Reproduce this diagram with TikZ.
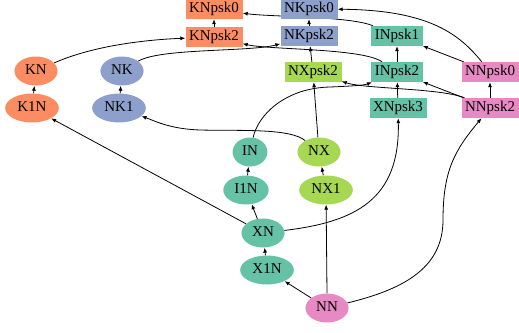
\documentclass[tikz,border=0pt]{standalone}
\usepackage{fontspec}
\setmainfont{Liberation Serif}
\usetikzlibrary{shapes.geometric,arrows.meta,backgrounds}
\definecolor{setOrange}{HTML}{FC8D62}
\definecolor{setBlue}{HTML}{8DA0CB}
\definecolor{setGreen}{HTML}{66C2A5}
\definecolor{setPink}{HTML}{E78AC3}
\definecolor{setLime}{HTML}{A6D854}

\begin{document}
\begin{tikzpicture}[x=1pt,y=-1pt,
    font=\fontsize{15}{18}\selectfont,
    box/.style={rectangle,inner xsep=3.5pt,inner ysep=0pt,minimum height=20pt,text height=10.5pt,text depth=3pt},
    oval/.style={ellipse,inner xsep=4.4pt,inner ysep=0pt,minimum height=29pt,text height=10.5pt,text depth=3pt},
    conn/.style={line width=0.8pt,-{Latex[length=5pt,width=4pt]}}]
    \useasboundingbox (0,0) rectangle (519,332);

    % boxes
    \node[box,fill=setOrange] (KNpsk0) at (214,9) {KNpsk0};
    \node[box,fill=setOrange] (KNpsk2) at (214,37) {KNpsk2};
    \node[box,fill=setBlue] (NKpsk0) at (309,9) {NKpsk0};
    \node[box,fill=setBlue] (NKpsk2) at (309,36) {NKpsk2};
    \node[box,fill=setGreen] (INpsk1) at (397,36) {INpsk1};
    \node[box,fill=setLime] (NXpsk2) at (313,72) {NXpsk2};
    \node[box,fill=setGreen] (INpsk2) at (397,72) {INpsk2};
    \node[box,fill=setPink] (NNpsk0) at (490,72) {NNpsk0};
    \node[box,fill=setGreen] (XNpsk3) at (398,108) {XNpsk3};
    \node[box,fill=setPink] (NNpsk2) at (490,108) {NNpsk2};

    % ellipses
    \node[oval,fill=setOrange] (KN) at (36,71) {KN};
    \node[oval,fill=setOrange] (K1N) at (32,108) {K1N};
    \node[oval,fill=setBlue] (NK) at (122,71) {NK};
    \node[oval,fill=setBlue] (NK1) at (119,108) {NK1};
    \node[oval,fill=setGreen] (IN) at (250,152) {IN};
    \node[oval,fill=setGreen] (I1N) at (246,190) {I1N};
    \node[oval,fill=setLime] (NX) at (319,152) {NX};
    \node[oval,fill=setLime] (NX1) at (326,190) {NX1};
    \node[oval,fill=setGreen] (XN) at (263,233) {XN};
    \node[oval,fill=setGreen] (X1N) at (267,270) {X1N};
    \node[oval,fill=setPink] (NN) at (327,308) {NN};

    \begin{scope}[on background layer]
      \draw[conn] (KNpsk2) -- (KNpsk0);
      \draw[conn] (NKpsk2) -- (NKpsk0);
      \draw[conn] (INpsk2) -- (INpsk1);
      \draw[conn] (XNpsk3) -- (INpsk2);
      \draw[conn] (NNpsk2) -- (NNpsk0);
      \draw[conn] (NXpsk2) -- (NKpsk2);
      \draw[conn] (NX) -- (NXpsk2);
      \draw[conn] (NNpsk0) -- (INpsk1);
      \draw[conn] (NNpsk2) -- (INpsk2);
      \draw[conn] (K1N) -- (KN);
      \draw[conn] (NK1) -- (NK);
      \draw[conn] (I1N) -- (IN);
      \draw[conn] (NX1) -- (NX);
      \draw[conn] (XN) -- (I1N);
      \draw[conn] (X1N) -- (XN);
      \draw[conn] (NN) -- (X1N);
      \draw[conn] (NN.north) -- (NX1);
      \draw[conn] (XN) -- (K1N);
      \draw[conn] (KN) .. controls (90,47) and (140,40) .. (KNpsk2);
      \draw[conn] (NK) .. controls (160,48) and (250,52) .. (NKpsk2);
      \draw[conn] (INpsk2) .. controls (362,48) and (270,50) .. (KNpsk2);
      \draw[conn] (INpsk1) .. controls (350,16) and (270,17) .. (KNpsk0);
      \draw[conn] (NNpsk0) .. controls (460,35) and (430,10) .. (NKpsk0);
      \draw[conn] (NNpsk2) .. controls (440,88) and (365,89) .. (NXpsk2);
      \draw[conn] (IN) .. controls (258,115) and (285,88) .. (330,87) .. controls (355,86) and (365,85) .. (INpsk2);
      \draw[conn] (NX) .. controls (290,128) and (240,131) .. (200,130) .. controls (170,129) and (155,121) .. (NK1);
      \draw[conn] (XN) .. controls (355,222) and (400,200) .. (XNpsk3);
      \draw[conn] (NN) .. controls (400,290) and (443,270) .. (443,220) .. controls (443,170) and (455,150) .. (NNpsk2);
    \end{scope}
\end{tikzpicture}
\end{document}
